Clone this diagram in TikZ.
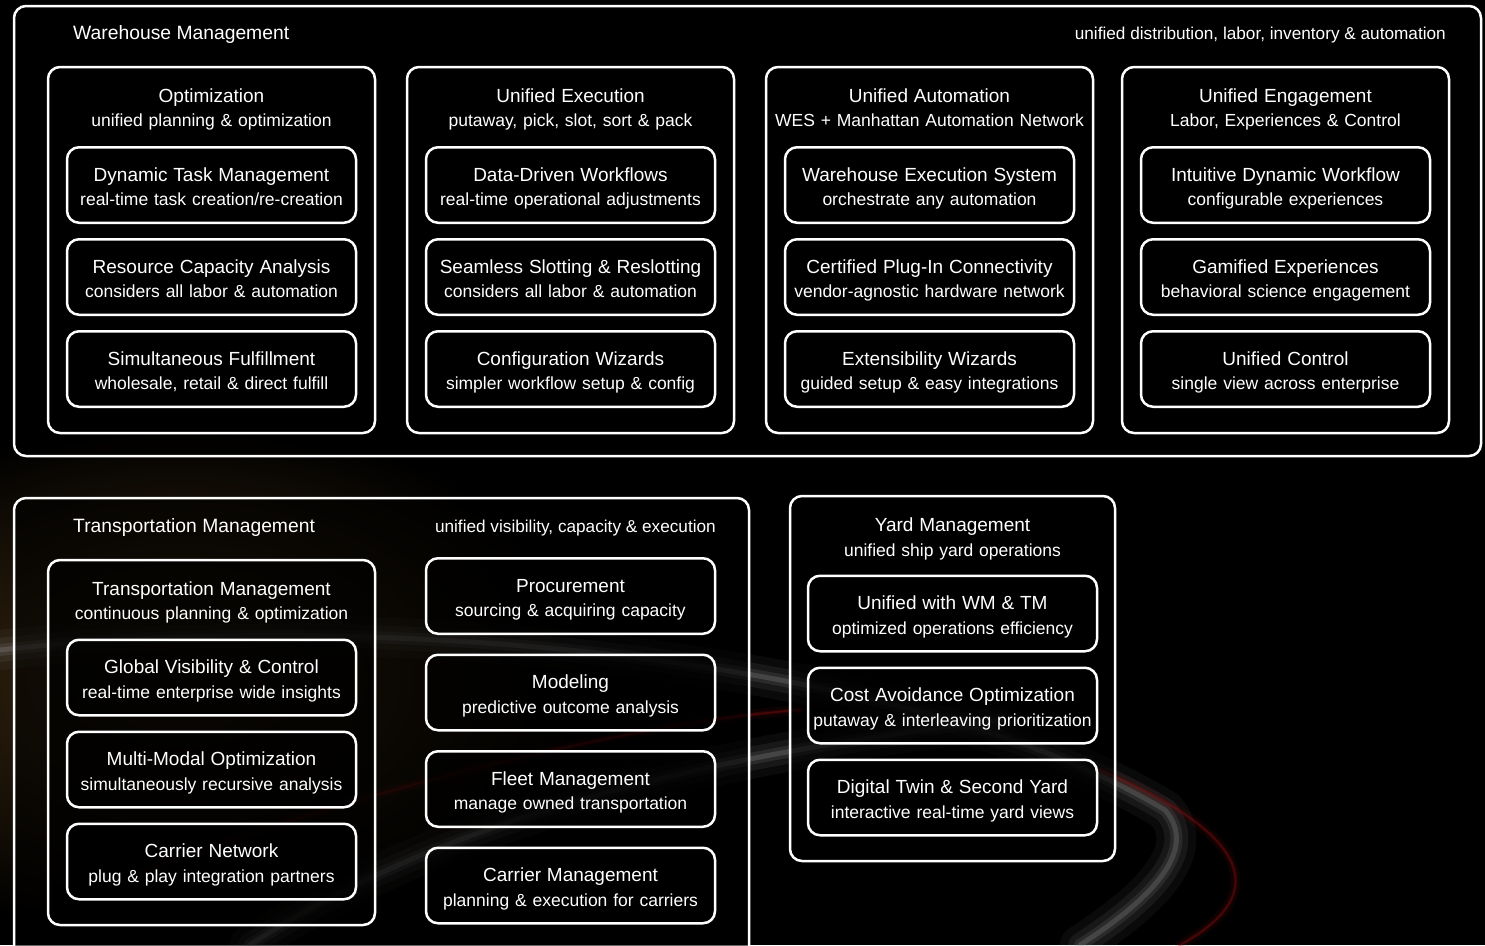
\documentclass[tikz,border=0pt]{standalone}
\usepackage{fontspec}
\setmainfont{Liberation Sans}
\usetikzlibrary{positioning}

\definecolor{glowbrown}{RGB}{62,44,18}
\definecolor{swirlgray}{RGB}{150,150,150}
\definecolor{swirlred}{RGB}{140,15,15}

\newcommand{\cardtext}[2]{{\fontsize{19}{24.5}\selectfont\rule{0pt}{22pt}#1}\\{\fontsize{17.5}{24.5}\selectfont #2\rule[-5pt]{0pt}{5pt}}}

\begin{document}
\begin{tikzpicture}[
    x=1pt, y=-1pt,
    node distance=14pt,
    panel/.style={draw=white, line width=2.5pt, rounded corners=12pt, fill=black, fill opacity=0.6, text opacity=1, text=white},
    group/.style={panel, minimum width=327pt, minimum height=366pt},
    card/.style={panel, minimum width=289pt, minimum height=75.5pt, text width=289pt, align=center, inner sep=0pt, font=\fontsize{17.5}{24.5}\selectfont},
    heading/.style={text width=320pt, align=center, text=white, inner sep=0pt, font=\fontsize{17.5}{24.5}\selectfont},
    title/.style={text=white, font=\fontsize{19.3}{24}\selectfont, anchor=west, inner sep=0pt},
    tagline/.style={text=white, font=\fontsize{17.2}{20}\selectfont, anchor=east, inner sep=0pt}
]

% background
\useasboundingbox (0,0) rectangle (1485,945);
\clip (0,0) rectangle (1485,945);
\fill[black] (0,0) rectangle (1485,945);
\shade[inner color=glowbrown, outer color=black] (180,680) ellipse (420 and 260);

% swirl
\begin{scope}[line cap=round]
\foreach \w/\o in {40/0.07, 24/0.1, 12/0.15, 5/0.25} {
  \draw[swirlgray, line width=\w pt, opacity=\o] (0,650) .. controls (350,610) and (900,650) .. (1165,810) .. controls (1200,850) and (1150,900) .. (1080,945);
  \draw[swirlgray, line width=\w pt, opacity=\o] (250,945) .. controls (500,780) and (850,740) .. (1000,720);
}
\foreach \w/\o in {10/0.1, 4/0.2, 1.5/0.35} {
  \draw[swirlred, line width=\w pt, opacity=\o] (120,880) .. controls (350,790) and (650,720) .. (800,710);
  \draw[swirlred, line width=\w pt, opacity=\o] (1100,770) .. controls (1240,830) and (1280,890) .. (1180,945);
}
\end{scope}

% warehouse management
\node[panel, minimum width=1467pt, minimum height=450pt] (wm) at (747.5,231) {};
\node[title] (wm-title) at (73,35) {Warehouse Management};
\node[tagline] (wm-tag) at (1446,35) {unified distribution, labor, inventory \& automation};

\node[group] (opt) at (211.5,250) {};
\node[heading] (opt-h) at (211.5,106) {\cardtext{Optimization}{unified planning \& optimization}};
\node[card] (dtm) at (211.5,185) {\cardtext{Dynamic Task Management}{real-time task creation/re-creation}};
\node[card, below=of dtm] (rca) {\cardtext{Resource Capacity Analysis}{considers all labor \& automation}};
\node[card, below=of rca] (sf) {\cardtext{Simultaneous Fulfillment}{wholesale, retail \& direct fulfill}};

\node[group] (exe) at (570.5,250) {};
\node[heading] (exe-h) at (570.5,106) {\cardtext{Unified Execution}{putaway, pick, slot, sort \& pack}};
\node[card] (ddw) at (570.5,185) {\cardtext{Data-Driven Workflows}{real-time operational adjustments}};
\node[card, below=of ddw] (ssr) {\cardtext{Seamless Slotting \& Reslotting}{considers all labor \& automation}};
\node[card, below=of ssr] (cw) {\cardtext{Configuration Wizards}{simpler workflow setup \& config}};

\node[group] (aut) at (929.5,250) {};
\node[heading] (aut-h) at (929.5,106) {\cardtext{Unified Automation}{WES + Manhattan Automation Network}};
\node[card] (wes) at (929.5,185) {\cardtext{Warehouse Execution System}{orchestrate any automation}};
\node[card, below=of wes] (cpc) {\cardtext{Certified Plug-In Connectivity}{vendor-agnostic hardware network}};
\node[card, below=of cpc] (ew) {\cardtext{Extensibility Wizards}{guided setup \& easy integrations}};

\node[group] (eng) at (1285.5,250) {};
\node[heading] (eng-h) at (1285.5,106) {\cardtext{Unified Engagement}{Labor, Experiences \& Control}};
\node[card] (idw) at (1285.5,185) {\cardtext{Intuitive Dynamic Workflow}{configurable experiences}};
\node[card, below=of idw] (ge) {\cardtext{Gamified Experiences}{behavioral science engagement}};
\node[card, below=of ge] (uc) {\cardtext{Unified Control}{single view across enterprise}};

% transportation management
\node[panel, minimum width=735pt, minimum height=462pt] (tm) at (381.5,729) {};
\node[title] (tm-title) at (73,528) {Transportation Management};
\node[tagline] (tm-tag) at (716,528) {unified visibility, capacity \& execution};

\node[group, minimum height=365pt] (tmp) at (211.5,742.5) {};
\node[heading] (tmp-h) at (211.5,599) {\cardtext{Transportation Management}{continuous planning \& optimization}};
\node[card] (gvc) at (211.5,677.5) {\cardtext{Global Visibility \& Control}{real-time enterprise wide insights}};
\node[card, below=of gvc] (mmo) {\cardtext{Multi-Modal Optimization}{simultaneously recursive analysis}};
\node[card, below=of mmo] (cn) {\cardtext{Carrier Network}{plug \& play integration partners}};

\node[card] (proc) at (570.5,596) {\cardtext{Procurement}{sourcing \& acquiring capacity}};
\node[card, below=18.5pt of proc] (mod) {\cardtext{Modeling}{predictive outcome analysis}};
\node[card, below=18.5pt of mod] (fm) {\cardtext{Fleet Management}{manage owned transportation}};
\node[card, below=18.5pt of fm] (cm) {\cardtext{Carrier Management}{planning \& execution for carriers}};

% yard management
\node[group, minimum width=325pt, minimum height=365pt] (ym) at (952.5,678.5) {};
\node[heading] (ym-h) at (952.5,535.5) {\cardtext{Yard Management}{unified ship yard operations}};
\node[card] (uwt) at (952.5,613.5) {\cardtext{Unified with WM \& TM}{optimized operations efficiency}};
\node[card, below=of uwt] (cao) {\cardtext{Cost Avoidance Optimization}{putaway \& interleaving prioritization}};
\node[card, below=of cao] (dts) {\cardtext{Digital Twin \& Second Yard}{interactive real-time yard views}};

\end{tikzpicture}
\end{document}
